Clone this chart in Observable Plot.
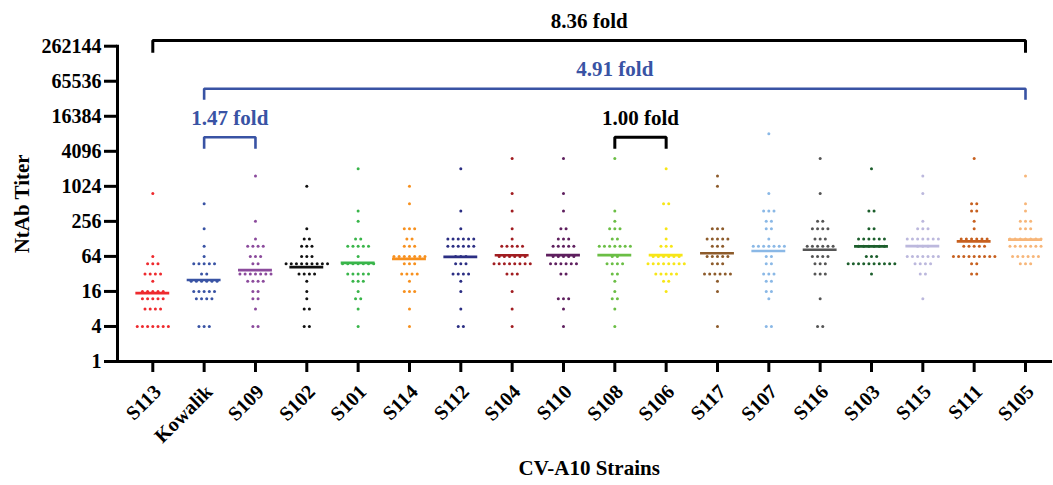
<!DOCTYPE html>
<html><head><meta charset="utf-8">
<script src="https://cdn.jsdelivr.net/npm/d3@7"></script>
<script src="https://cdn.jsdelivr.net/npm/@observablehq/plot@0.6"></script>
<style>body{margin:0;background:#fff;}</style>
</head><body><div id="chart"></div>
<script>
// Categories
const strains = ["S113","Kowalik","S109","S102","S101","S114","S112","S104","S110","S108","S106","S117","S107","S116","S103","S115","S111","S105"];
const colors = ["#EE2A2E","#3953A4","#8B4A9C","#111111","#39B54A","#F7901E","#2B2E83","#A11D21","#5E1F5E","#6BBE45","#F7E617","#8D5B2B","#8AB8E6","#555555","#1C5E2C","#BCB8DD","#C7601F","#F7B679"];
// Titer values per strain: [titer, number of sera]
const S113    = [[4,7],[8,4],[12,5],[16,5],[24,1],[32,4],[48,3],[64,1],[768,1]];
const Kowalik = [[4,3],[12,4],[16,5],[24,6],[32,2],[48,5],[64,1],[96,1],[192,1],[512,1]];
const S109    = [[4,2],[8,1],[12,2],[16,2],[24,4],[32,7],[48,2],[64,3],[96,4],[128,1],[256,1],[1536,1]];
const S102    = [[4,2],[8,2],[12,1],[16,1],[24,1],[32,4],[48,9],[64,3],[96,3],[128,2],[192,1],[1024,1]];
const S101    = [[4,1],[8,1],[12,2],[16,1],[24,3],[32,5],[48,7],[64,1],[96,5],[128,2],[256,1],[384,1],[2048,1]];
const S114    = [[4,1],[8,1],[16,3],[24,1],[32,4],[48,3],[64,7],[96,3],[128,2],[192,3],[512,1],[1024,1]];
const S112    = [[4,2],[8,1],[16,1],[24,1],[32,4],[48,3],[64,3],[96,6],[128,6],[192,1],[384,1],[2048,1]];
const S104    = [[4,1],[8,1],[16,1],[32,3],[48,8],[64,6],[96,5],[128,1],[192,1],[384,1],[768,1],[3072,1]];
const S110    = [[4,1],[8,1],[12,3],[32,2],[48,6],[64,5],[96,5],[128,3],[192,2],[384,1],[768,1],[3072,1]];
const S108    = [[4,1],[8,1],[12,2],[16,1],[24,1],[32,2],[48,4],[64,2],[96,7],[128,2],[192,3],[256,1],[384,1],[3072,1]];
const S106    = [[16,1],[24,2],[32,5],[48,8],[64,6],[96,3],[128,1],[192,1],[512,2],[2048,1]];
const S117    = [[4,1],[16,1],[24,1],[32,6],[48,3],[64,5],[96,3],[128,5],[192,3],[1024,1],[1536,1]];
const S107    = [[4,2],[12,1],[16,2],[24,2],[32,3],[48,2],[64,2],[96,7],[128,1],[192,2],[256,2],[384,3],[768,1],[8192,1]];
const S116    = [[4,2],[12,1],[32,3],[48,3],[64,4],[96,6],[128,3],[192,4],[256,2],[768,1],[3072,1]];
const S103    = [[32,1],[48,10],[64,3],[96,6],[128,6],[192,2],[384,2],[2048,1]];
const S115    = [[12,1],[32,2],[48,4],[64,7],[96,3],[128,7],[192,3],[256,1],[768,1],[1536,1]];
const S111    = [[32,2],[48,2],[64,9],[96,5],[128,6],[192,1],[256,1],[384,2],[512,2],[3072,1]];
const S105    = [[48,3],[64,6],[96,7],[128,7],[192,3],[256,3],[384,1],[512,1],[1536,1]];
const titers = [S113,Kowalik,S109,S102,S101,S114,S112,S104,S110,S108,S106,S117,S107,S116,S103,S115,S111,S105];
// Axis ticks
const yTicks = [1,4,16,64,256,1024,4096,16384,65536,262144];
// Fold-change annotations (levels in log2 units)
const brackets = [
  {from:"S113", to:"S105", label:"8.36 fold", color:"#000000", width:3, level:18.32, leg:17.62, textLevel:19.45},
  {from:"Kowalik", to:"S105", label:"4.91 fold", color:"#3953A4", width:2.6, level:15.57, leg:14.94, textLevel:16.71},
  {from:"Kowalik", to:"S109", label:"1.47 fold", color:"#3953A4", width:2.6, level:12.80, leg:12.14, textLevel:13.91},
  {from:"S108", to:"S106", label:"1.00 fold", color:"#000000", width:3, level:12.80, leg:12.14, textLevel:13.91}
];

const idx = s => strains.indexOf(s);
const spacing = 0.101;
const dots = [];
titers.forEach((rows, i) => rows.forEach(([v, n]) => {
  for (let k = 0; k < n; k++) dots.push({i, strain: strains[i], value: v, off: (k - (n - 1) / 2) * spacing});
}));
const gmt = titers.map((rows, i) => {
  let s = 0, c = 0;
  rows.forEach(([v, n]) => { s += n * Math.log2(v); c += n; });
  return {i, strain: strains[i], value: 2 ** (s / c)};
});
const bracketPts = [];
brackets.forEach((b, j) => {
  const a = idx(b.from), e = idx(b.to);
  [[a, b.leg], [a, b.level], [e, b.level], [e, b.leg]].forEach(([x, l]) => bracketPts.push({j, x, y: 2 ** l, color: b.color, w: b.width}));
});
const font = "'Liberation Serif','Times New Roman',serif";

const chart = Plot.plot({
  width: 1053, height: 485,
  marginLeft: 117, marginRight: 3, marginTop: 45.7, marginBottom: 124,
  style: {fontFamily: font, fontWeight: "bold", fontSize: "20px", color: "black", background: "white"},
  x: {domain: [0, strains.length - 1], range: [152.3, 1025]},
  y: {type: "log", base: 2, domain: [1, 262144]},
  color: {domain: strains, range: colors},
  marks: [
    Plot.axisY({ticks: yTicks, tickSize: 13, tickPadding: 3, strokeWidth: 3, tickFormat: d => String(d), label: null, fontSize: 20, fontWeight: "bold"}),
    Plot.axisX({ticks: d3.range(strains.length), tickSize: 11, strokeWidth: 3, tickFormat: () => "", label: null}),
    Plot.frame({anchor: "left", strokeWidth: 3}),
    Plot.frame({anchor: "bottom", strokeWidth: 3}),
    Plot.dot(dots, {x: d => d.i + d.off, y: "value", r: 1.5, fill: "strain", stroke: null}),
    Plot.ruleY(gmt, {x1: d => d.i - 0.33, x2: d => d.i + 0.33, y: "value", stroke: "strain", strokeWidth: 2.7}),
    ...brackets.map((b, j) => Plot.line(bracketPts.filter(p => p.j === j), {x: "x", y: "y", stroke: b.color, strokeWidth: b.width, strokeLinejoin: "miter", strokeLinecap: "butt"})),
    Plot.text(brackets, {x: d => (idx(d.from) + idx(d.to)) / 2, y: d => 2 ** d.textLevel, text: "label", fill: d => d.color, fontSize: 21, fontWeight: "bold"}),
    Plot.text(strains, {x: (d, i) => i, frameAnchor: "bottom", lineAnchor: "middle", dx: 5, dy: 27, rotate: -45, textAnchor: "end", fontSize: 20, fontWeight: "bold"}),
    Plot.text(["NtAb Titer"], {frameAnchor: "left", textAnchor: "middle", lineAnchor: "middle", dx: -95, rotate: -90, fontSize: 21, fontWeight: "bold"}),
    Plot.text(["CV-A10 Strains"], {x: (strains.length - 1) / 2, frameAnchor: "bottom", dy: 113, fontSize: 21, fontWeight: "bold"})
  ]
});
document.getElementById("chart").appendChild(chart);
</script>
</body></html>
